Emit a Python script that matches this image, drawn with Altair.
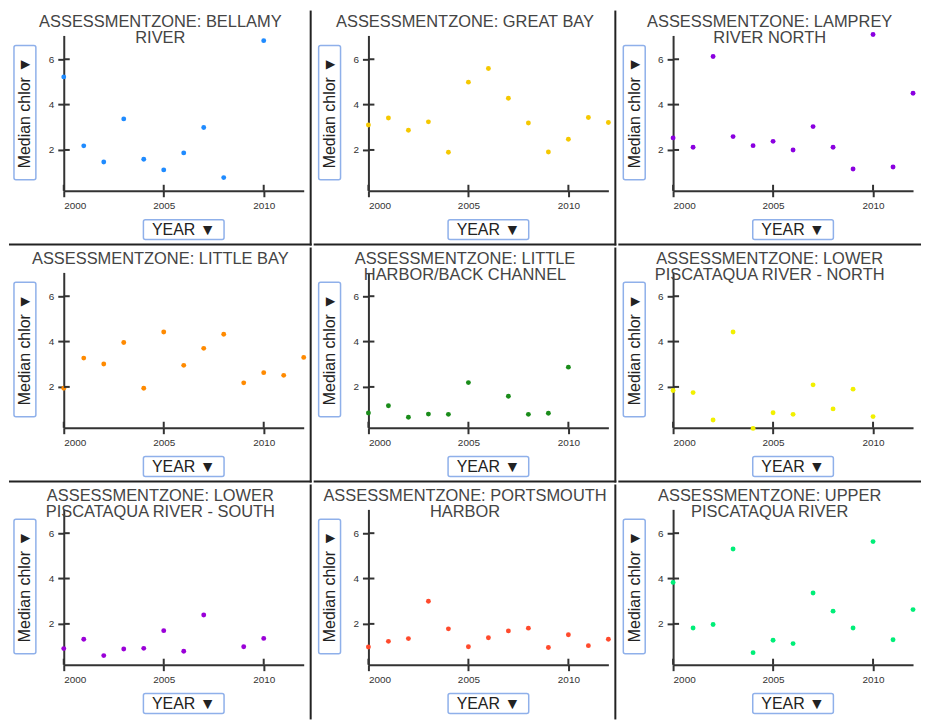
import altair as alt
import pandas as pd

years = list(range(2000, 2013))

zone_titles = [
    "ASSESSMENTZONE: BELLAMY\nRIVER",
    "ASSESSMENTZONE: GREAT BAY",
    "ASSESSMENTZONE: LAMPREY\nRIVER NORTH",
    "ASSESSMENTZONE: LITTLE BAY",
    "ASSESSMENTZONE: LITTLE\nHARBOR/BACK CHANNEL",
    "ASSESSMENTZONE: LOWER\nPISCATAQUA RIVER - NORTH",
    "ASSESSMENTZONE: LOWER\nPISCATAQUA RIVER - SOUTH",
    "ASSESSMENTZONE: PORTSMOUTH\nHARBOR",
    "ASSESSMENTZONE: UPPER\nPISCATAQUA RIVER",
]

zone_colors = ["#1f8bff", "#f5c800", "#8a00e0", "#ff8a00", "#1a8c1a",
               "#f2f000", "#9a00d8", "#ff4a2c", "#00ee78"]

# Median chlor per year 2000..2012 (None = no sample)
bellamy = [5.22, 2.18, 1.47, 3.37, 1.59, 1.12, 1.87, 2.99, 0.78, None, 6.82, None, None]
great_bay = [3.10, 3.41, 2.87, 3.24, 1.90, 4.99, 5.59, 4.28, 3.19, 1.91, 2.47, 3.43, 3.21]
lamprey = [2.53, 2.12, 6.12, 2.59, 2.19, 2.38, 2.00, 3.03, 2.12, 1.16, 7.09, 1.25, 4.50]
little_bay = [1.94, 3.27, 3.01, 3.96, 1.94, 4.42, 2.95, 3.70, 4.32, 2.18, 2.63, 2.51, 3.30]
little_harbor = [0.85, 1.17, 0.66, 0.80, 0.79, 2.19, None, 1.59, 0.79, 0.84, 2.87, None, None]
lpr_north = [1.84, 1.75, 0.54, 4.42, 0.17, 0.86, 0.79, 2.09, 1.03, 1.90, 0.69, None, None]
lpr_south = [0.91, 1.32, 0.60, 0.89, 0.92, 1.70, 0.79, 2.39, None, 0.99, 1.36, None, None]
portsmouth = [0.98, 1.23, 1.35, 3.00, 1.78, 0.99, 1.39, 1.69, 1.81, 0.96, 1.52, 1.04, 1.32]
upper_pisc = [3.83, 1.82, 1.97, 5.30, 0.73, 1.28, 1.13, 3.36, 2.56, 1.82, 5.63, 1.30, 2.63]

series = [bellamy, great_bay, lamprey, little_bay, little_harbor,
          lpr_north, lpr_south, portsmouth, upper_pisc]

x_ticks = [2000, 2005, 2010]
y_ticks = [2, 4, 6]

W, H = 241, 156
CELL_L, CELL_T = 55, 25
CELL_W, CELL_H = 304, 236
FONT = "Liberation Sans"
BOX = "#8fb0ea"
INK = "#333333"
TICK = 6


def axis(vals, fmt=None):
    kw = dict(values=vals, title=None, grid=False, domainColor=INK, domainWidth=2,
              tickColor=INK, tickWidth=2, tickSize=TICK, labelFontSize=10,
              labelColor=INK, labelPadding=4, labelFont=FONT)
    if fmt:
        kw["format"] = fmt
    return alt.Axis(**kw)


def xenc(field):
    return alt.X(field, scale=alt.Scale(domain=[2000, 2012], nice=False, zero=False),
                 axis=axis(x_ticks, "d"))


def yenc(field):
    return alt.Y(field, scale=alt.Scale(domain=[0.2, 7.05], nice=False, zero=False),
                 axis=axis(y_ticks))


def panel(i):
    col, row = i % 3, i // 3
    df = pd.DataFrame({"YEAR": years, "chlor": series[i]}).dropna()
    pts = alt.Chart(df).mark_circle(size=24, opacity=1, color=zone_colors[i]).encode(
        x=xenc("YEAR:Q"), y=yenc("chlor:Q"))

    # inner halves of the ticks so that they cross the axis lines
    xt = alt.Chart(pd.DataFrame({"YEAR": x_ticks})).mark_rule(color=INK, strokeWidth=2).encode(
        x=xenc("YEAR:Q"), y=alt.value(H), y2=alt.value(H - TICK))
    yt = alt.Chart(pd.DataFrame({"chlor": y_ticks})).mark_rule(color=INK, strokeWidth=2).encode(
        y=yenc("chlor:Q"), x=alt.value(0), x2=alt.value(TICK))

    one = pd.DataFrame({"title": [zone_titles[i]], "ytitle": ["Median chlor ▼"],
                        "xtitle": ["YEAR ▼"]})
    base = alt.Chart(one)
    frame = base.mark_rect(opacity=0).encode(
        x=alt.value(-CELL_L), x2=alt.value(CELL_W - CELL_L),
        y=alt.value(-CELL_T), y2=alt.value(CELL_H - CELL_T))
    title = base.mark_text(font=FONT, fontSize=16.5, color="#444444", lineBreak="\n",
                           lineHeight=15.5, baseline="alphabetic", align="center").encode(
        text="title:N", x=alt.value(97), y=alt.value(-8))
    ybox = base.mark_rect(fill="white", stroke=BOX, strokeWidth=1.5, cornerRadius=2).encode(
        x=alt.value(-50), x2=alt.value(-28), y=alt.value(10), y2=alt.value(145))
    ytext = base.mark_text(font=FONT, fontSize=16, color="#222222", angle=270,
                           baseline="middle", align="center").encode(
        text="ytitle:N", x=alt.value(-38.5), y=alt.value(77.5))
    xbox = base.mark_rect(fill="white", stroke=BOX, strokeWidth=1.5, cornerRadius=2).encode(
        x=alt.value(80), x2=alt.value(161), y=alt.value(185), y2=alt.value(205))
    xtext = base.mark_text(font=FONT, fontSize=16, color="#222222",
                           baseline="middle", align="center").encode(
        text="xtitle:N", x=alt.value(120.5), y=alt.value(195.5))
    layers = [frame, title, ybox, ytext, xbox, xtext]
    if col < 2:
        layers.append(base.mark_rule(color="#222222", strokeWidth=2).encode(
            x=alt.value(CELL_W - CELL_L - 1), y=alt.value(-CELL_T), y2=alt.value(CELL_H - CELL_T)))
    if row < 2:
        layers.append(base.mark_rule(color="#222222", strokeWidth=2).encode(
            x=alt.value(-CELL_L), x2=alt.value(CELL_W - CELL_L), y=alt.value(CELL_H - CELL_T - 1)))
    layers += [pts, xt, yt]
    return alt.layer(*layers).properties(width=W, height=H)


chart = alt.concat(*[panel(i) for i in range(9)], columns=3, spacing=0).properties(
    padding={"left": 0, "top": 0, "right": 0, "bottom": 0}
).configure_view(stroke=None).configure_concat(spacing=0)

chart.save("out.html", embed_options={"renderer": "svg", "actions": False})
